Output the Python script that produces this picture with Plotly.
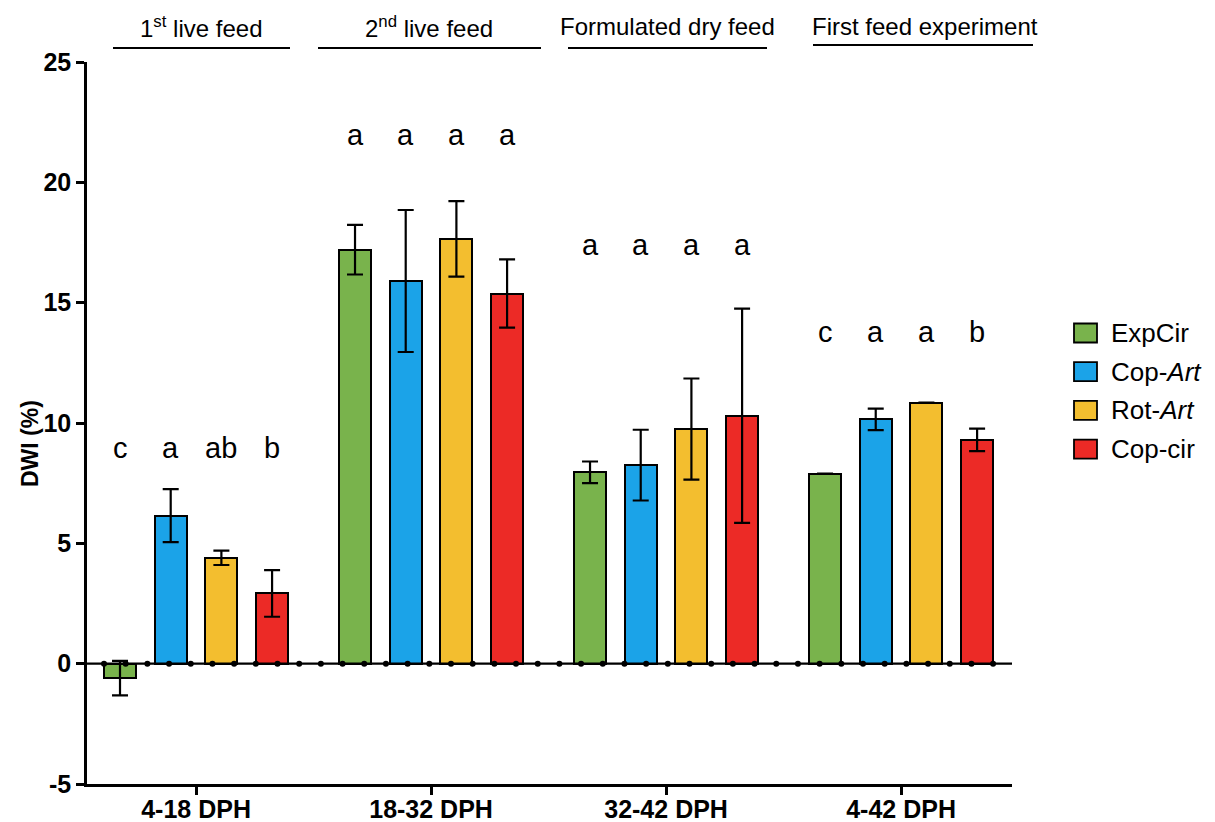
import numpy as np
import plotly.graph_objects as go

# Feeding periods (x categories) and diets (series)
periods = ["4-18 DPH", "18-32 DPH", "32-42 DPH", "4-42 DPH"]
phases = ["1<sup>st</sup> live feed", "2<sup>nd</sup> live feed",
          "Formulated dry feed", "First feed experiment"]
diets = ["ExpCir", "Cop-<i>Art</i>", "Rot-<i>Art</i>", "Cop-cir"]
y_ticks = [-5, 0, 5, 10, 15, 20, 25]
y_tick_text = ["-5", "0", "5", "10", "15", "20", "25"]

# Daily weight increase (%) per diet, one value per period
dwi_expcir = [-0.60, 17.20, 7.95, 7.90]
dwi_copart = [6.15, 15.90, 8.25, 10.15]
dwi_rotart = [4.40, 17.65, 9.75, 10.85]
dwi_copcir = [2.92, 15.38, 10.30, 9.30]

# Standard deviations (error bars); None where no deviation is shown
sd_expcir = [0.72, 1.03, 0.45, None]
sd_copart = [1.10, 2.95, 1.47, 0.45]
sd_rotart = [0.30, 1.57, 2.10, None]
sd_copcir = [0.97, 1.42, 4.45, 0.47]

# Significance letters per period
letters_expcir = ["c", "a", "a", "c"]
letters_copart = ["a", "a", "a", "a"]
letters_rotart = ["ab", "a", "a", "a"]
letters_copcir = ["b", "a", "a", "b"]

values = [dwi_expcir, dwi_copart, dwi_rotart, dwi_copcir]
errors = [sd_expcir, sd_copart, sd_rotart, sd_copcir]
letters = [letters_expcir, letters_copart, letters_rotart, letters_copcir]
colors = ["#79B34C", "#1BA3E8", "#F3BE2F", "#EC2A26"]

FONT = "Liberation Sans, Arial, sans-serif"
bar_step = 0.2157
bar_w = 0.136
letter_y = [8.98, 21.95, 17.38, 13.8]

fig = go.Figure()
group_x = np.arange(len(periods), dtype=float)

for i, (name, vals, errs, col) in enumerate(zip(diets, values, errors, colors)):
    xs = group_x + (i - 1.5) * bar_step
    err_arr = [np.nan if e is None else e for e in errs]
    fig.add_trace(go.Bar(
        x=xs, y=vals, width=bar_w, name=name,
        marker=dict(color=col, line=dict(color="black", width=2)),
        error_y=dict(type="data", array=err_arr, visible=True,
                     color="black", thickness=2.2, width=8),
        showlegend=False,
    ))
    for g, (x, lab) in enumerate(zip(xs, letters[i])):
        fig.add_annotation(x=x, y=letter_y[g], text=lab, showarrow=False,
                           xref="x", yref="y", xanchor="center", yanchor="middle",
                           font=dict(family=FONT, size=29, color="black"))

# Zero baseline with evenly spaced dots between the outer bar edges
x_left = group_x[0] - 1.5 * bar_step - bar_w / 2
x_right = group_x[-1] + 1.5 * bar_step + bar_w / 2
fig.add_shape(type="line", xref="paper", yref="y", x0=0, x1=1, y0=0, y1=0,
              line=dict(color="black", width=2.2))
dots_x = np.linspace(x_left, x_right, 42)
fig.add_trace(go.Scatter(x=dots_x, y=np.zeros_like(dots_x), mode="markers",
                         marker=dict(color="black", size=6),
                         showlegend=False, hoverinfo="skip", cliponaxis=False))

# Phase headers with underlines
phase_lines = [(113, 290), (318, 541), (568, 767), (813, 1033)]
phase_line_y = [48, 48, 48, 45]
phase_text_x = [201, 429, 667, 925]
for text, (xa, xb), ly, tx in zip(phases, phase_lines, phase_line_y, phase_text_x):
    fig.add_shape(type="line", xref="paper", yref="paper",
                  x0=(xa - 87) / 925, x1=(xb - 87) / 925,
                  y0=(784 - ly) / 722, y1=(784 - ly) / 722,
                  line=dict(color="black", width=2))
    fig.add_annotation(x=(tx - 87) / 925, y=(784 - 27) / 722, text=text,
                       xref="paper", yref="paper", showarrow=False,
                       xanchor="center", yanchor="middle",
                       font=dict(family=FONT, size=24, color="black"))

# Legend drawn as swatches with labels
for i, (name, col) in enumerate(zip(diets, colors)):
    cy = 333 + i * 38.7
    fig.add_shape(type="rect", xref="paper", yref="paper",
                  x0=(1074 - 87) / 925, x1=(1097 - 87) / 925,
                  y0=(784 - cy - 9.5) / 722, y1=(784 - cy + 9.5) / 722,
                  fillcolor=col, line=dict(color="black", width=1.8))
    fig.add_annotation(x=(1109 - 87) / 925, y=(784 - cy) / 722, text=name,
                       xref="paper", yref="paper", showarrow=False,
                       xanchor="left", yanchor="middle",
                       font=dict(family=FONT, size=26, color="black"))

# Y-axis title
fig.add_annotation(x=(30 - 87) / 925, y=(784 - 444) / 722, text="<b>DWI (%)</b>",
                   xref="paper", yref="paper", showarrow=False, textangle=-90,
                   xanchor="center", yanchor="middle",
                   font=dict(family=FONT, size=23, color="black"))

fig.update_layout(
    width=1215, height=822,
    margin=dict(l=87, r=203, t=62, b=38),
    plot_bgcolor="white", paper_bgcolor="white",
    bargap=0, showlegend=False,
    font=dict(family=FONT, color="black"),
)
fig.update_xaxes(
    range=[-0.464, 3.472], tickvals=group_x, ticktext=periods,
    showline=True, linecolor="black", linewidth=2.5,
    ticks="outside", ticklen=8, tickwidth=2.5, tickcolor="black",
    tickfont=dict(family=FONT, size=25, color="black", weight="bold"),
    ticklabelstandoff=-7,
    showgrid=False, zeroline=False, automargin=False,
)
fig.update_yaxes(
    range=[-5, 25], tickvals=y_ticks, ticktext=y_tick_text,
    showline=True, linecolor="black", linewidth=2.5,
    ticks="outside", ticklen=8, tickwidth=2.5, tickcolor="black",
    tickfont=dict(family=FONT, size=25, color="black", weight="bold"),
    showgrid=False, zeroline=False, automargin=False,
)

fig.write_html("out.html")
